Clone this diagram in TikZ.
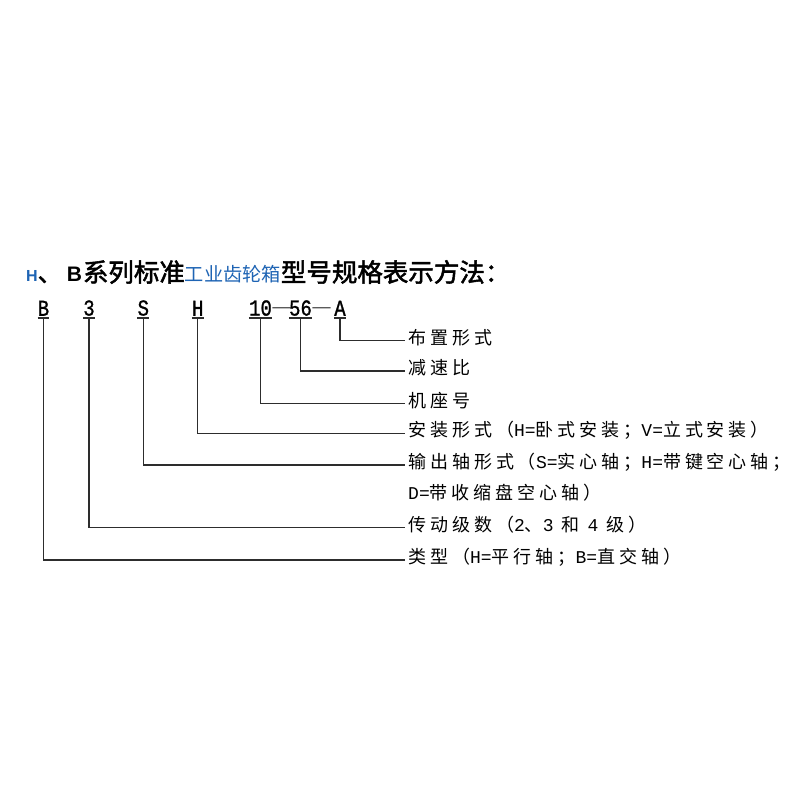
\documentclass[tikz,border=0pt]{standalone}
\usepackage{fontspec}
\setmainfont{Liberation Serif}
\newfontfamily\cjk[LetterSpace=22]{Noto Sans CJK SC}
\newfontfamily\cjkT[AutoFakeBold=2]{Noto Sans CJK SC}
\newfontfamily\monof{Liberation Mono}
\newfontfamily\monoc[FakeBold=1.2]{Liberation Mono}
\newfontfamily\sansb{Liberation Sans}
\newcommand{\latm}[1]{{\monof #1}}
\newcommand{\tallc}[1]{\scalebox{1}[1.2]{#1}}
\definecolor{tblue}{RGB}{30,100,180}
\definecolor{lncol}{RGB}{45,45,45}
\tikzset{
  codechar/.style={font=\monoc\fontsize{19}{22}\selectfont, inner xsep=0pt, inner ysep=2pt, anchor=south},
  dashchar/.style={font=\fontsize{18}{20}\selectfont, inner sep=0pt, anchor=base},
  lbl/.style={font=\cjk\fontsize{18}{22}\selectfont, anchor=west, inner xsep=3pt, inner ysep=0pt},
  bar/.style={draw=lncol, line width=1.3pt},
  conn/.style={draw=lncol, line width=1.3pt}
}
\begin{document}
\begin{tikzpicture}[x=1pt,y=-1pt]
\fill[white] (0,0) rectangle (800,800);
\useasboundingbox (0,0) rectangle (800,800);
% title
\node[anchor=west, inner sep=0pt] (title) at (26,272) {%
{\sansb\bfseries\fontsize{16}{18}\selectfont\color{tblue}H}%
{\cjkT\bfseries\fontsize{24}{28}\selectfont 、}\hspace{5pt}%
{\sansb\bfseries\fontsize{21}{24}\selectfont B}\hspace{1pt}%
{\cjkT\bfseries\fontsize{25.5}{28}\selectfont 系列标准}%
{\cjkT\fontsize{19.2}{22}\selectfont\color{tblue}工业齿轮箱}%
{\cjkT\bfseries\fontsize{25.5}{28}\selectfont 型号规格表示方法：}};
% code row
\node[codechar] (cB) at (43.5,318) {\tallc{B}};
\node[codechar] (c3) at (89,318) {\tallc{3}};
\node[codechar] (cS) at (143.3,318) {\tallc{S}};
\node[codechar] (cH) at (197.7,318) {\tallc{H}};
\node[codechar] (c10) at (260.5,318) {\tallc{10}};
\node[dashchar] (d1) at (281.5,312) {—};
\node[codechar] (c56) at (300.5,318) {\tallc{56}};
\node[dashchar] (d2) at (321.5,312) {—};
\node[codechar] (cA) at (340,318) {\tallc{A}};
\foreach \n in {cB,c3,cS,cH,c10,c56,cA}{
  \draw[bar] (\n.south west) -- (\n.south east);
}
% labels
\node[lbl] (lA) at (405,337.7) {布置形式};
\node[lbl] (l56) at (405,368) {减速比};
\node[lbl] (l10) at (405,400.3) {机座号};
\node[lbl] (lH) at (405,430.3) {安装形式（\latm{H=}卧式安装；\latm{V=}立式安装）};
\node[lbl] (lS) at (405,462) {输出轴形式（\latm{S=}实心轴；\latm{H=}带键空心轴；};
\node[lbl] (lD) at (405,493) {\latm{D=}带收缩盘空心轴）};
\node[lbl] (l3) at (405,524.7) {传动级数（\latm{2}、\latm{3} 和 \latm{4} 级）};
\node[lbl] (lB) at (405,557) {类型（\latm{H=}平行轴；\latm{B=}直交轴）};
% connectors
\draw[conn] (cA.south) |- ([yshift=-3pt]lA.west);
\draw[conn] (c56.south) |- ([yshift=-3pt]l56.west);
\draw[conn] (c10.south) |- ([yshift=-3pt]l10.west);
\draw[conn] (cH.south) |- ([yshift=-3pt]lH.west);
\draw[conn] (cS.south) |- ([yshift=-3pt]lS.west);
\draw[conn] (c3.south) |- ([yshift=-3pt]l3.west);
\draw[conn] (cB.south) |- ([yshift=-3pt]lB.west);
\end{tikzpicture}
\end{document}
